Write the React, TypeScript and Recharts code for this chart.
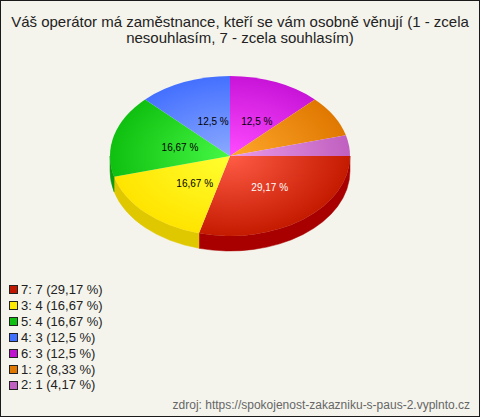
import React from "react";
import { PieChart, Pie } from "recharts";

// answers in legend order (largest first), the pie runs clockwise from 3 o'clock
const categories = ["7", "3", "5", "4", "6", "1", "2"];
const counts = [7, 4, 4, 3, 3, 2, 1];

const rimColors = ["#C41A00", "#FFE400", "#10C010", "#4470FF", "#C814D8", "#E07800", "#C060C0"];
const lightColors = ["#FF5C46", "#FFFF30", "#46F846", "#8CAAFF", "#FF4CFF", "#FFA82C", "#EA9CEA"];
const sideColors = ["#A80000", "#E0C800", "#0E9A0E", "#3050C0", "#9010A0", "#B05800", "#904090"];
const legendColors = ["#C01800", "#FFE800", "#10C010", "#4070FF", "#C010D0", "#E07800", "#C060C0"];
const labelColors = ["#FFFFFF", "#000000", "#000000", "#000000", "#000000", "#000000", "#000000"];

const titleLines = [
  "Váš operátor má zaměstnance, kteří se vám osobně věnují (1 - zcela",
  "nesouhlasím, 7 - zcela souhlasím)",
];
const source = "zdroj: https://spokojenost-zakazniku-s-paus-2.vyplnto.cz";

const total = counts.reduce((a, b) => a + b, 0);
const data = categories.map((name, i) => ({ name, value: counts[i] }));

const CX = 229;
const CY = 155;
const RY = 80;
const ASPECT = 1.5;
const DEPTH = 15;
const RAD = Math.PI / 180;

const fmt = (p: number) => String(Math.round(p * 100) / 100).replace(".", ",");

const point = (cx: number, cy: number, rx: number, ry: number, a: number, dy = 0) =>
  `${cx + rx * Math.cos(a * RAD)},${cy + dy - ry * Math.sin(a * RAD)}`;

// top face + visible side wall of one slice
const renderSlice = (p: any) => {
  const { cx, cy, outerRadius, index } = p;
  let s = Math.max(p.startAngle, p.endAngle);
  let e = Math.min(p.startAngle, p.endAngle);
  while (s > 0) {
    s -= 360;
    e -= 360;
  }
  const ry = outerRadius;
  const rx = outerRadius * ASPECT;
  const large = s - e > 180 ? 1 : 0;
  const top = `M${cx},${cy} L${point(cx, cy, rx, ry, s)} A${rx},${ry} 0 ${large} 1 ${point(cx, cy, rx, ry, e)} Z`;

  const a1 = Math.min(s, 0);
  const a2 = Math.max(e, -180);
  let side = null;
  if (a1 > a2) {
    const d = `M${point(cx, cy, rx, ry, a1)} A${rx},${ry} 0 0 1 ${point(cx, cy, rx, ry, a2)} L${point(cx, cy, rx, ry, a2, DEPTH)} A${rx},${ry} 0 0 0 ${point(cx, cy, rx, ry, a1, DEPTH)} Z`;
    side = <path d={d} fill={sideColors[index]} stroke={sideColors[index]} strokeWidth={0.5} />;
  }
  return (
    <g>
      {side}
      <path d={top} fill={`url(#slice${index})`} />
    </g>
  );
};

const renderPercent = (p: any) => {
  if (p.percent < 0.1) return null;
  const ry = p.outerRadius;
  const rx = ry * ASPECT;
  const x = p.cx + 5 + 0.475 * rx * Math.cos(p.midAngle * RAD);
  const y = p.cy + 1 - 0.475 * ry * Math.sin(p.midAngle * RAD);
  return (
    <text
      x={x}
      y={y}
      textAnchor="middle"
      dominantBaseline="central"
      fontSize={10}
      fill={labelColors[p.index]}
      fontFamily="'Liberation Sans', Arial, sans-serif"
    >
      {fmt(p.percent * 100)} %
    </text>
  );
};

export default function App() {
  return (
    <div
      style={{
        position: "absolute",
        left: 0,
        top: 0,
        width: 480,
        height: 417,
        boxSizing: "border-box",
        border: "1px solid #1a1a1a",
        background: "#F4F4EC",
        fontFamily: "'Liberation Sans', Arial, sans-serif",
        color: "#222",
      }}
    >
      <div
        style={{
          position: "absolute",
          top: 13,
          left: 0,
          width: 478,
          textAlign: "center",
          fontSize: 15,
          lineHeight: "16px",
        }}
      >
        {titleLines.map((t) => (
          <div key={t}>{t}</div>
        ))}
      </div>

      <div style={{ position: "absolute", left: 0, top: 0 }}>
        <PieChart width={478} height={280} margin={{ top: 0, right: 0, bottom: 0, left: 0 }}>
          <defs>
            {rimColors.map((c, i) => (
              <radialGradient
                key={i}
                id={`slice${i}`}
                gradientUnits="userSpaceOnUse"
                cx={CX}
                cy={CY}
                r={RY * ASPECT}
                gradientTransform={`translate(${CX} ${CY}) scale(1 ${1 / ASPECT}) translate(${-CX} ${-CY})`}
              >
                <stop offset="0%" stopColor={lightColors[i]} />
                <stop offset="100%" stopColor={c} />
              </radialGradient>
            ))}
          </defs>
          <Pie
            data={data}
            dataKey="value"
            nameKey="name"
            cx={CX}
            cy={CY}
            outerRadius={RY}
            startAngle={0}
            endAngle={-360}
            fill="none"
            stroke="none"
            label={renderSlice}
            labelLine={false}
            isAnimationActive={false}
          />
          <Pie
            data={data}
            dataKey="value"
            nameKey="name"
            cx={CX}
            cy={CY}
            outerRadius={RY}
            startAngle={0}
            endAngle={-360}
            fill="none"
            stroke="none"
            label={renderPercent}
            labelLine={false}
            isAnimationActive={false}
          />
        </PieChart>
      </div>

      <div style={{ position: "absolute", left: 8, top: 281, fontSize: 13, lineHeight: "15.9px" }}>
        {categories.map((c, i) => (
          <div key={c} style={{ display: "flex", alignItems: "center", whiteSpace: "nowrap" }}>
            <span
              style={{
                display: "inline-block",
                width: 7,
                height: 7,
                border: "1px solid #222",
                background: legendColors[i],
                marginRight: 3,
              }}
            />
            {`${c}: ${counts[i]} (${fmt((counts[i] / total) * 100)} %)`}
          </div>
        ))}
      </div>

      <div
        style={{
          position: "absolute",
          right: 9,
          top: 397,
          fontSize: 12,
          lineHeight: "14px",
          color: "#666",
          whiteSpace: "nowrap",
        }}
      >
        {source}
      </div>
    </div>
  );
}
